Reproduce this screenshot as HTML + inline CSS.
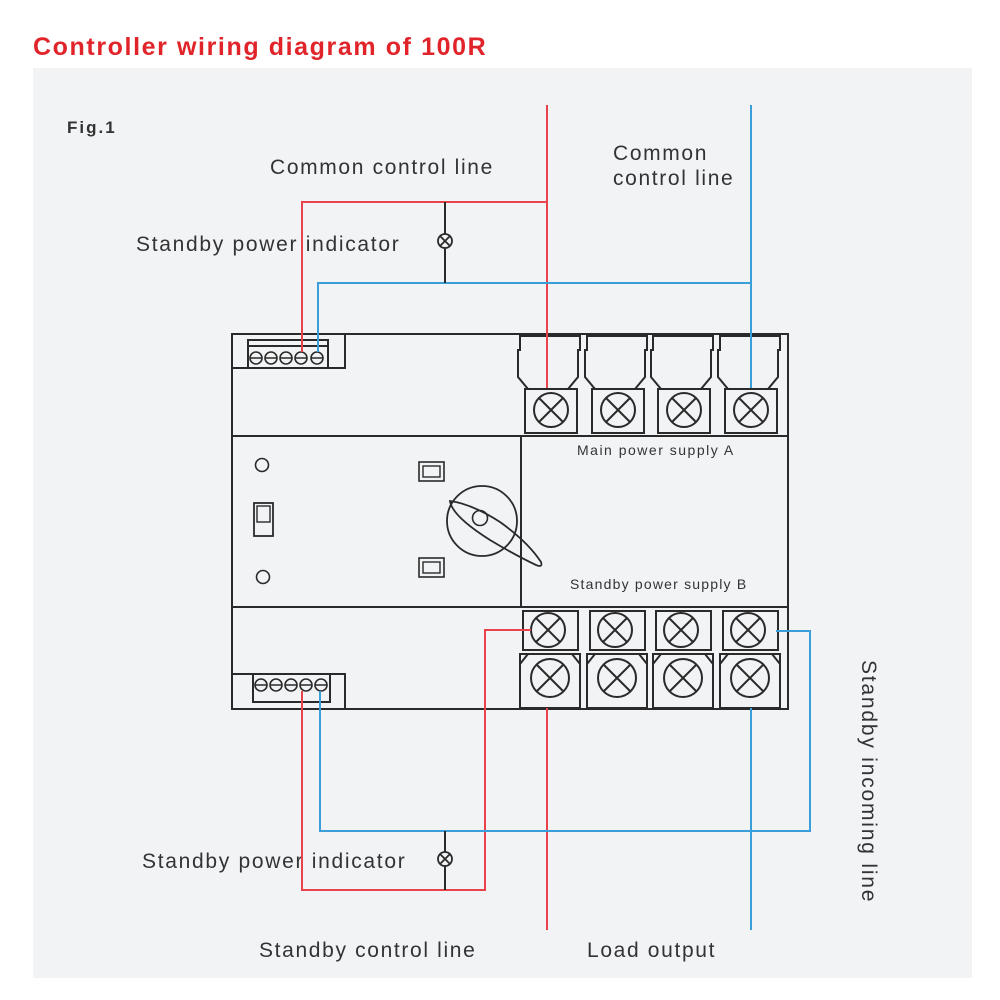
<!DOCTYPE html>
<html><head><meta charset="utf-8"><style>
html,body{margin:0;padding:0;background:#fff;width:1000px;height:1000px;overflow:hidden}
svg{display:block}
text{font-family:"Liberation Sans",Arial,sans-serif;fill:#333;letter-spacing:1.65px}
</style></head><body>
<svg width="1000" height="1000" viewBox="0 0 1000 1000" xmlns="http://www.w3.org/2000/svg">
<rect x="0" y="0" width="1000" height="1000" fill="#fff"/>
<text x="33" y="55" font-size="25" font-weight="bold" style="fill:#e0242a;letter-spacing:1.6px">Controller wiring diagram of 100R</text>
<rect x="33" y="68" width="939" height="910" fill="#f2f3f5"/>
<text x="67" y="133" font-size="17" font-weight="bold" style="fill:#333;letter-spacing:2px">Fig.1</text>
<text x="270" y="174" font-size="21">Common control line</text>
<text x="613" y="160" font-size="21">Common</text>
<text x="613" y="185" font-size="21">control line</text>
<text x="136" y="251" font-size="21" style="letter-spacing:1.7px">Standby power indicator</text>
<text x="142" y="868" font-size="21" style="letter-spacing:1.7px">Standby power indicator</text>
<text x="259" y="957" font-size="21">Standby control line</text>
<text x="587" y="957" font-size="21">Load output</text>
<text transform="translate(862,660) rotate(90)" font-size="21" style="letter-spacing:1.8px">Standby incoming line</text>
<text x="577" y="455" font-size="14" style="letter-spacing:1.5px">Main  power  supply  A</text>
<text x="570" y="589" font-size="14" style="letter-spacing:1.2px">Standby power supply B</text>

<g fill="none" stroke="#2a2a2a" stroke-width="2">
<rect x="232" y="334" width="556" height="375"/>
<line x1="232" y1="436" x2="788" y2="436"/>
<line x1="232" y1="607" x2="788" y2="607"/>
<line x1="521" y1="436" x2="521" y2="607"/>
<rect x="232" y="334" width="113" height="34"/>
<rect x="248" y="340" width="80" height="28"/>
<line x1="248" y1="346" x2="328" y2="346"/>
<g stroke-width="1.6">
<circle cx="256" cy="358" r="6"/><circle cx="271" cy="358" r="6"/><circle cx="286" cy="358" r="6"/><circle cx="301" cy="358" r="6"/><circle cx="317" cy="358" r="6"/>
<path d="M250 358h12M265 358h12M280 358h12M295 358h12M311 358h12"/>
</g>
<rect x="232" y="674" width="113" height="35"/>
<rect x="253" y="674" width="77" height="28"/>
<g stroke-width="1.6">
<circle cx="261" cy="685" r="6"/><circle cx="276" cy="685" r="6"/><circle cx="291" cy="685" r="6"/><circle cx="306" cy="685" r="6"/><circle cx="321" cy="685" r="6"/>
<path d="M255 685h12M270 685h12M285 685h12M300 685h12M315 685h12"/>
</g>
<circle cx="262" cy="465" r="6.5" stroke-width="1.6"/>
<circle cx="263" cy="577" r="6.5" stroke-width="1.6"/>
<rect x="254" y="503" width="19" height="33" stroke-width="1.8"/>
<rect x="257" y="506" width="13" height="16" stroke-width="1.4"/>
<rect x="419" y="462" width="25" height="19" stroke-width="1.6"/>
<rect x="423" y="466" width="17" height="11" stroke-width="1.4"/>
<rect x="419" y="558" width="25" height="19" stroke-width="1.6"/>
<rect x="423" y="562" width="17" height="11" stroke-width="1.4"/>
<circle cx="482" cy="521" r="35" stroke-width="1.8"/>
<circle cx="480" cy="518" r="7.5" stroke-width="1.6"/>
<path d="M450 501 Q472 504 500 522 Q528 542 541 562 Q543 568 536 565 Q515 555 490 540 Q452 516 450 501Z" stroke-width="1.8"/>
</g>

<g fill="none" stroke="#2a2a2a" stroke-width="2">
<g id="tt">
<path d="M520 336h60v14h-2v27l-10 12h-40l-10-12v-27h2z" />
<rect x="525" y="389" width="52" height="44"/>
<circle cx="551" cy="410" r="17"/>
<path d="M539 398l24 24M563 398l-24 24"/>
</g>
<use href="#tt" x="67"/>
<use href="#tt" x="133"/>
<use href="#tt" x="200"/>
<g id="bt">
<rect x="523" y="611" width="55" height="39"/>
<circle cx="548" cy="630" r="17"/>
<path d="M536 618l24 24M560 618l-24 24"/>
<path d="M520 654h60v54h-60z"/>
<path d="M520 664l8-10M580 664l-8-10"/>
<circle cx="550" cy="678" r="19"/>
<path d="M537 665l26 26M563 665l-26 26"/>
</g>
<use href="#bt" x="67"/>
<use href="#bt" x="133"/>
<use href="#bt" x="200"/>
</g>

<g fill="none" stroke-width="2">
<path d="M547 105V388" stroke="#e8434d"/>
<path d="M547 202H302V352" stroke="#e8434d"/>
<path d="M751 105V388" stroke="#3a9fd8"/>
<path d="M751 283H318V352" stroke="#3a9fd8"/>
<path d="M445 202V283" stroke="#2a2a2a"/>
<path d="M547 708V930" stroke="#e8434d"/>
<path d="M302 691V890H485V630H531" stroke="#e8434d"/>
<path d="M751 708V930" stroke="#3a9fd8"/>
<path d="M320 691V831H810V631H776" stroke="#3a9fd8"/>
<path d="M445 831V890" stroke="#2a2a2a"/>
</g>
<g fill="#f2f3f5" stroke="#2a2a2a" stroke-width="1.8">
<circle cx="445" cy="241" r="7"/>
<path d="M440 236l10 10M450 236l-10 10"/>
<circle cx="445" cy="859" r="7"/>
<path d="M440 854l10 10M450 854l-10 10"/>
</g>
</svg>
</body></html>
